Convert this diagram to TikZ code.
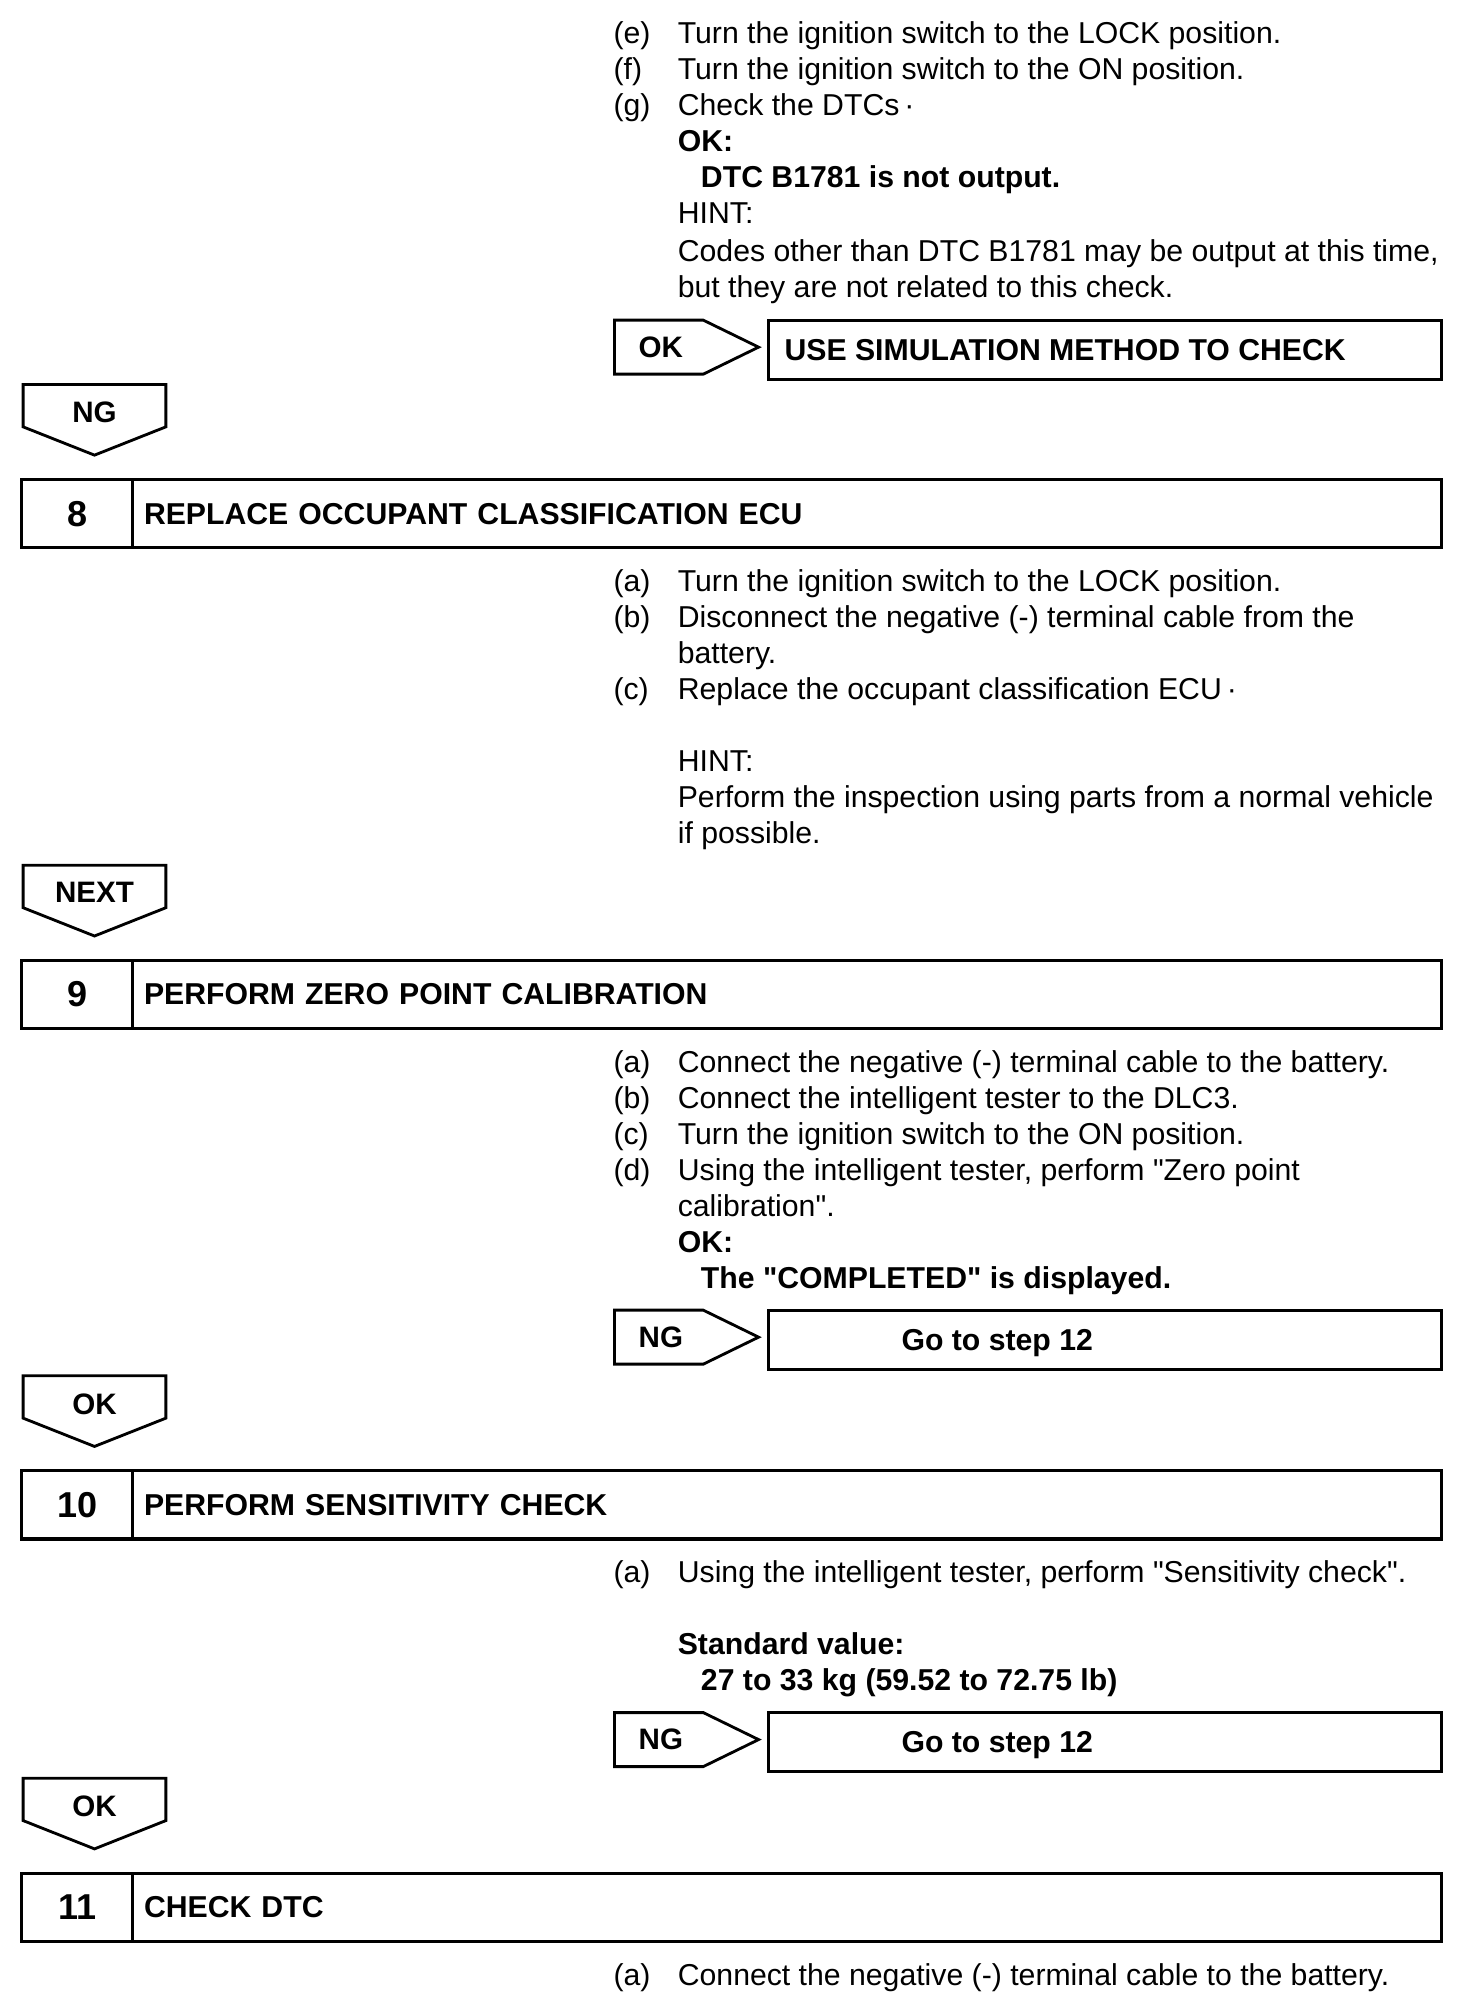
\documentclass[tikz,border=0pt]{standalone}
\usepackage{fontspec}
\setmainfont{Liberation Sans}
\newcommand{\sq}{\textquotedbl}
\begin{document}
\begin{tikzpicture}[x=1pt,y=-1pt,
  txt/.style={anchor=base west,inner sep=0pt,font=\fontsize{23.5pt}{28pt}\selectfont},
  btxt/.style={txt,font=\fontsize{23.5pt}{28pt}\selectfont\bfseries},
  numcell/.style={draw,line width=2.4pt,minimum width=86pt,minimum height=53pt,inner sep=0pt,font=\fontsize{28pt}{32pt}\selectfont\bfseries},
  titlecell/.style={draw,line width=2.4pt,minimum width=1018pt,minimum height=53pt,text width=1000pt,inner xsep=9pt,inner ysep=0pt,align=left,font=\fontsize{23.5pt}{28pt}\selectfont\bfseries},
  resbox/.style={draw,line width=2.4pt,minimum width=523pt,minimum height=46pt,inner sep=0pt,font=\fontsize{23.5pt}{28pt}\selectfont\bfseries},
  tag/.style={inner sep=0pt,font=\fontsize{23pt}{28pt}\selectfont\bfseries},
  shp/.style={draw,line width=2.2pt,line join=miter}]
\useasboundingbox (0,0) rectangle (1145,1568);
\fill[white] (0,0) rectangle (1145,1568);

% ---- top block
\node[txt] (e1) at (477,34) {(e)};
\node[txt] (e2) at (527,34) {Turn the ignition switch to the LOCK position.};
\node[txt] (f1) at (477,62) {(f)};
\node[txt] (f2) at (527,62) {Turn the ignition switch to the ON position.};
\node[txt] (g1) at (477,90) {(g)};
\node[txt] (g2) at (527,90) {Check the DTCs\,·};
\node[btxt] (ok1) at (527,118) {OK:};
\node[btxt] (ok2) at (545,146) {DTC B1781 is not output.};
\node[txt] (h1) at (527,174) {HINT:};
\node[txt] (h2) at (527,203) {Codes other than DTC B1781 may be output at this time,};
\node[txt] (h3) at (527,231) {but they are not related to this check.};

% OK -> use simulation
\node[tag] (okt) at (514,270) {OK};
\draw[shp] (478,249) -- (547,249) -- (590,270) -- (547,291) -- (478,291) -- cycle;
\node[resbox,minimum height=46pt] (sim) at (859.5,272) {};
\node[btxt] (simt) at (610,280) {USE SIMULATION METHOD TO CHECK};

% NG down
\node[tag] (ng1) at (73.5,321) {NG};
\draw[shp] (18,299) -- (129,299) -- (129,332) -- (73.5,354) -- (18,332) -- cycle;

% ---- step 8
\node[numcell] (s8n) at (60,399.5) {8};
\node[titlecell] (s8t) at (612,399.5) {REPLACE OCCUPANT CLASSIFICATION ECU};

\node[txt] (a8a) at (477,460) {(a)};
\node[txt] (a8b) at (527,460) {Turn the ignition switch to the LOCK position.};
\node[txt] (b8a) at (477,488) {(b)};
\node[txt] (b8b) at (527,488) {Disconnect the negative (-) terminal cable from the};
\node[txt] (b8c) at (527,516) {battery.};
\node[txt] (c8a) at (477,544) {(c)};
\node[txt] (c8b) at (527,544) {Replace the occupant classification ECU\,·};
\node[txt] (h8a) at (527,600) {HINT:};
\node[txt] (h8b) at (527,628) {Perform the inspection using parts from a normal vehicle};
\node[txt] (h8c) at (527,656) {if possible.};

% NEXT down
\node[tag] (next) at (73.5,694) {NEXT};
\draw[shp] (18,673) -- (129,673) -- (129,706) -- (73.5,728) -- (18,706) -- cycle;

% ---- step 9
\node[numcell] (s9n) at (60,773.5) {9};
\node[titlecell] (s9t) at (612,773.5) {PERFORM ZERO POINT CALIBRATION};

\node[txt] (a9a) at (477,834) {(a)};
\node[txt] (a9b) at (527,834) {Connect the negative (-) terminal cable to the battery.};
\node[txt] (b9a) at (477,862) {(b)};
\node[txt] (b9b) at (527,862) {Connect the intelligent tester to the DLC3.};
\node[txt] (c9a) at (477,890) {(c)};
\node[txt] (c9b) at (527,890) {Turn the ignition switch to the ON position.};
\node[txt] (d9a) at (477,918) {(d)};
\node[txt] (d9b) at (527,918) {Using the intelligent tester, perform \sq Zero point};
\node[txt] (d9c) at (527,946) {calibration\sq.};
\node[btxt] (ok9a) at (527,974) {OK:};
\node[btxt] (ok9b) at (545,1002) {The \sq COMPLETED\sq\ is displayed.};

\node[tag] (ng9) at (514,1040) {NG};
\draw[shp] (478,1019) -- (547,1019) -- (590,1040) -- (547,1061) -- (478,1061) -- cycle;
\node[resbox] (go9) at (859.5,1042) {};
\node[btxt] (go9t) at (701,1050) {Go to step 12};

% OK down
\node[tag] (ok9d) at (73.5,1092) {OK};
\draw[shp] (18,1070) -- (129,1070) -- (129,1103) -- (73.5,1125) -- (18,1103) -- cycle;

% ---- step 10
\node[numcell] (s10n) at (60,1170.5) {10};
\node[titlecell] (s10t) at (612,1170.5) {PERFORM SENSITIVITY CHECK};

\node[txt] (a10a) at (477,1231) {(a)};
\node[txt] (a10b) at (527,1231) {Using the intelligent tester, perform \sq Sensitivity check\sq.};
\node[btxt] (sv1) at (527,1287) {Standard value:};
\node[btxt] (sv2) at (545,1315) {27 to 33 kg (59.52 to 72.75 lb)};

\node[tag] (ng10) at (514,1353) {NG};
\draw[shp] (478,1332) -- (547,1332) -- (590,1353) -- (547,1374) -- (478,1374) -- cycle;
\node[resbox] (go10) at (859.5,1355) {};
\node[btxt] (go10t) at (701,1363) {Go to step 12};

% OK down
\node[tag] (ok10d) at (73.5,1405) {OK};
\draw[shp] (18,1383) -- (129,1383) -- (129,1416) -- (73.5,1438) -- (18,1416) -- cycle;

% ---- step 11
\node[numcell] (s11n) at (60,1483.5) {11};
\node[titlecell] (s11t) at (612,1483.5) {CHECK DTC};

\node[txt] (a11a) at (477,1544) {(a)};
\node[txt] (a11b) at (527,1544) {Connect the negative (-) terminal cable to the battery.};
\end{tikzpicture}
\end{document}
